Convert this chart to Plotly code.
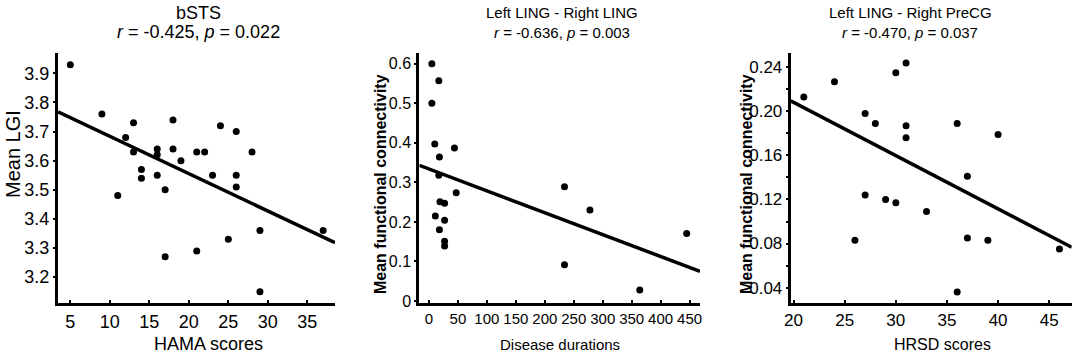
import plotly.graph_objects as go

# ---- Panel 1: bSTS ----
hama_x = [5, 9, 13, 12, 13, 18, 16, 16, 18, 19, 21, 22, 24, 26, 28, 14, 14, 16, 23, 26,
          11, 17, 26, 29, 25, 21, 17, 29, 37]
lgi_y = [3.93, 3.76, 3.73, 3.68, 3.63, 3.74, 3.64, 3.62, 3.64, 3.60, 3.63, 3.63, 3.72, 3.70, 3.63,
         3.57, 3.54, 3.55, 3.55, 3.55, 3.48, 3.50, 3.51, 3.36, 3.33, 3.29, 3.27, 3.15, 3.36]
fit1_x = [3.44, 38.5]
fit1_y = [3.768, 3.318]

# ---- Panel 2: Left LING - Right LING ----
dur_x = [5, 17, 5, 10, 44, 18, 17, 19, 27, 47, 11, 27, 18, 27, 27, 234, 278, 234, 364, 445]
fc2_y = [0.60, 0.557, 0.50, 0.397, 0.387, 0.364, 0.318, 0.251, 0.247, 0.274, 0.215, 0.204,
         0.180, 0.151, 0.139, 0.289, 0.230, 0.092, 0.028, 0.171]
fit2_x = [-16.7, 468]
fit2_y = [0.343, 0.075]

# ---- Panel 3: Left LING - Right PreCG ----
hrsd_x = [21, 24, 30, 31, 27, 28, 31, 31, 36, 40, 37, 27, 29, 30, 33, 26, 37, 39, 46, 36]
fc3_y = [0.213, 0.227, 0.235, 0.244, 0.198, 0.189, 0.187, 0.176, 0.189, 0.179, 0.141,
         0.124, 0.120, 0.117, 0.109, 0.083, 0.085, 0.083, 0.075, 0.036]
fit3_x = [19.72, 47.2]
fit3_y = [0.2095, 0.0766]

titles = ["bSTS", "Left LING - Right LING", "Left LING - Right PreCG"]
stats = ["<i>r</i> = -0.425, <i>p</i> = 0.022", "<i>r</i> = -0.636, <i>p</i> = 0.003",
         "<i>r</i> = -0.470, <i>p</i> = 0.037"]
xlabels = ["HAMA scores", "Disease durations", "HRSD scores"]
ylabels = ["Mean LGI", "<b>Mean functional connectivity</b>", "<b>Mean functional connectivity</b>"]

W, H = 1084, 358
FONT = "Liberation Sans, Arial, sans-serif"

fig = go.Figure()
data = [(hama_x, lgi_y, fit1_x, fit1_y), (dur_x, fc2_y, fit2_x, fit2_y), (hrsd_x, fc3_y, fit3_x, fit3_y)]
for i, (xs, ys, fx, fy) in enumerate(data):
    xa = "x" if i == 0 else f"x{i+1}"
    ya = "y" if i == 0 else f"y{i+1}"
    fig.add_trace(go.Scatter(x=fx, y=fy, mode="lines", line=dict(color="black", width=3.5),
                             xaxis=xa, yaxis=ya, showlegend=False, hoverinfo="skip", cliponaxis=False))
    fig.add_trace(go.Scatter(x=xs, y=ys, mode="markers", marker=dict(color="black", size=7),
                             xaxis=xa, yaxis=ya, showlegend=False, cliponaxis=False))

px_dom = [(58, 335), (419.3, 700), (790.7, 1071.7)]
ydom = [(H - 303) / H, (H - 53) / H]
xranges = [[3.44, 38.5], [-16.7, 468], [19.72, 47.2]]
yranges = [[3.111, 3.97], [-0.005, 0.627], [0.026, 0.253]]
xtickv = [[5, 10, 15, 20, 25, 30, 35], list(range(0, 451, 50)), [20, 25, 30, 35, 40, 45]]
ytickv = [[3.2, 3.3, 3.4, 3.5, 3.6, 3.7, 3.8, 3.9], [0, 0.1, 0.2, 0.3, 0.4, 0.5, 0.6],
          [0.04, 0.08, 0.12, 0.16, 0.20, 0.24]]
ytickt = [[f"{v:.1f}" for v in ytickv[0]], ["0", "0.1", "0.2", "0.3", "0.4", "0.5", "0.6"],
          [f"{v:.2f}" for v in ytickv[2]]]
xtfs = [18, 15, 17]
ytfs = [18, 16, 17]

layout = {}
for i in range(3):
    sx = "" if i == 0 else str(i + 1)
    d = [px_dom[i][0] / W, px_dom[i][1] / W]
    layout["xaxis" + sx] = dict(domain=d, range=xranges[i], anchor="y" + sx, automargin=False,
                                showline=True, linecolor="black", linewidth=3,
                                ticks="inside", ticklen=3, tickwidth=2, tickcolor="black",
                                tickvals=xtickv[i], showgrid=False, zeroline=False, tickangle=0,
                                tickfont=dict(family=FONT, size=xtfs[i], color="black"))
    yax = dict(domain=ydom, range=yranges[i], anchor="x" + sx, automargin=False,
               showline=True, linecolor="black", linewidth=3,
               ticks="outside", ticklen=2, tickwidth=2, tickcolor="black",
               tickvals=ytickv[i], ticktext=ytickt[i], showgrid=False, zeroline=False,
               tickfont=dict(family=FONT, size=ytfs[i], color="black"))
    if i == 2:
        yax["minor"] = dict(ticks="outside", ticklen=2, tickwidth=2, tickcolor="black", dtick=0.02)
    layout["yaxis" + sx] = yax

fig.update_layout(**layout)
fig.update_layout(width=W, height=H, margin=dict(l=0, r=0, t=0, b=0, autoexpand=False),
                  paper_bgcolor="white", plot_bgcolor="white",
                  font=dict(family=FONT, color="black"))

title_cx = [198, 562, 910]
title_fs = [18, 15, 15]
xlab_cx = [208, 560, 942]
xlab_fs = [18, 15, 16]
ylab_x = [13, 380, 746]
ylab_y = [154, 184, 184]
ylab_fs = [20, 16, 16]
for i in range(3):
    fig.add_annotation(x=title_cx[i] / W, y=1 - 13 / H, xref="paper", yref="paper",
                       xanchor="center", yanchor="middle",
                       text=titles[i], showarrow=False, font=dict(size=title_fs[i], family=FONT))
    fig.add_annotation(x=title_cx[i] / W, y=1 - 32 / H, xref="paper", yref="paper",
                       xanchor="center", yanchor="middle",
                       text=stats[i], showarrow=False, font=dict(size=title_fs[i], family=FONT))
    fig.add_annotation(x=xlab_cx[i] / W, y=1 - 344 / H, xref="paper", yref="paper",
                       xanchor="center", yanchor="middle",
                       text=xlabels[i], showarrow=False, font=dict(size=xlab_fs[i], family=FONT))
    fig.add_annotation(x=ylab_x[i] / W, y=1 - ylab_y[i] / H, xref="paper", yref="paper",
                       xanchor="center", yanchor="middle",
                       text=ylabels[i], showarrow=False, textangle=-90,
                       font=dict(size=ylab_fs[i], family=FONT))

fig.write_html("out.html", config={"displayModeBar": False},
               post_script="document.body.style.margin='0';document.body.style.overflow='hidden';")
